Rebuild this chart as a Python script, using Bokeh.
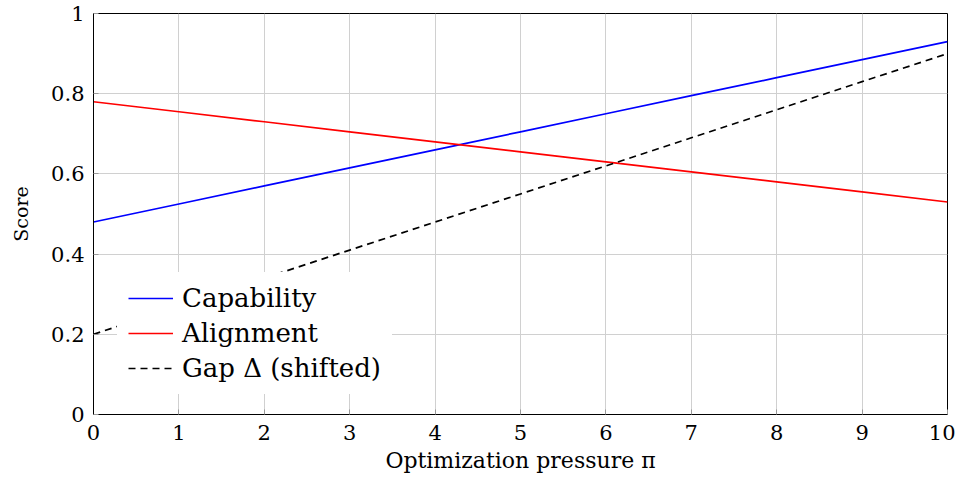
from bokeh.plotting import figure
from bokeh.models import Range1d, FixedTicker, Legend, LegendItem
from bokeh.embed import file_html
from bokeh.resources import INLINE

x = [0, 1, 2, 3, 4, 5, 6, 7, 8, 9, 10]
capability = [0.48, 0.525, 0.57, 0.615, 0.66, 0.705, 0.75, 0.795, 0.84, 0.885, 0.93]
alignment = [0.78, 0.755, 0.73, 0.705, 0.68, 0.655, 0.63, 0.605, 0.58, 0.555, 0.53]
gap_shifted = [0.20, 0.27, 0.34, 0.41, 0.48, 0.55, 0.62, 0.69, 0.76, 0.83, 0.90]
x_ticks = [0, 1, 2, 3, 4, 5, 6, 7, 8, 9, 10]
y_ticks = [0, 0.2, 0.4, 0.6, 0.8, 1]
y_tick_labels = {0: "0", 0.2: "0.2", 0.4: "0.4", 0.6: "0.6", 0.8: "0.8", 1: "1"}

FONT = "DejaVu Serif"

p = figure(width=955, height=478, output_backend="svg", toolbar_location=None,
           x_range=Range1d(0, 10), y_range=Range1d(0, 1),
           min_border_left=93, min_border_right=8, min_border_top=13, min_border_bottom=64)
p.outline_line_color = "black"
p.outline_line_width = 1
p.outline_line_alpha = 1

for ax in (p.xaxis[0], p.yaxis[0]):
    ax.major_tick_in = 5
    ax.major_tick_out = 0
    ax.minor_tick_in = 0
    ax.minor_tick_out = 0
    ax.major_tick_line_color = "#999999"
    ax.axis_line_color = "black"
    ax.major_label_text_font = FONT
    ax.major_label_text_font_size = "21px"
    ax.major_label_text_color = "black"
    ax.axis_label_text_font = FONT
    ax.axis_label_text_font_style = "normal"
    ax.axis_label_text_color = "black"

p.xaxis.axis_label_text_font_size = "22px"
p.yaxis.axis_label_text_font_size = "19px"
p.xaxis.ticker = FixedTicker(ticks=x_ticks)
p.yaxis.ticker = FixedTicker(ticks=y_ticks)
p.yaxis.major_label_overrides = y_tick_labels
p.xaxis.axis_label = "Optimization pressure π"
p.yaxis.axis_label = "Score"
p.xaxis.major_label_standoff = 10
p.yaxis.major_label_standoff = 9
p.xaxis.axis_label_standoff = 5
p.yaxis.axis_label_standoff = 16

p.xgrid.ticker = FixedTicker(ticks=x_ticks)
p.ygrid.ticker = FixedTicker(ticks=y_ticks)
p.grid.grid_line_color = "#d0d0d0"
p.grid.grid_line_width = 1

r1 = p.line(x, capability, line_color="#0000ff", line_width=1.7)
r2 = p.line(x, alignment, line_color="#ff0000", line_width=1.7)
r3 = p.line(x, gap_shifted, line_color="black", line_width=1.7, line_dash="7 5")

legend = Legend(items=[
    LegendItem(label="Capability", renderers=[r1]),
    LegendItem(label="Alignment", renderers=[r2]),
    LegendItem(label="Gap Δ (shifted)", renderers=[r3]),
], location=(24, 20))
legend.label_text_font = FONT
legend.label_text_font_size = "26px"
legend.label_text_color = "black"
legend.border_line_alpha = 0
legend.background_fill_color = "white"
legend.background_fill_alpha = 1
legend.glyph_width = 45
legend.glyph_height = 30
legend.label_height = 30
legend.spacing = 5
legend.padding = 11
legend.margin = 0
legend.label_standoff = 9
p.add_layout(legend)

open("out.html", "w").write(file_html(p, INLINE))
